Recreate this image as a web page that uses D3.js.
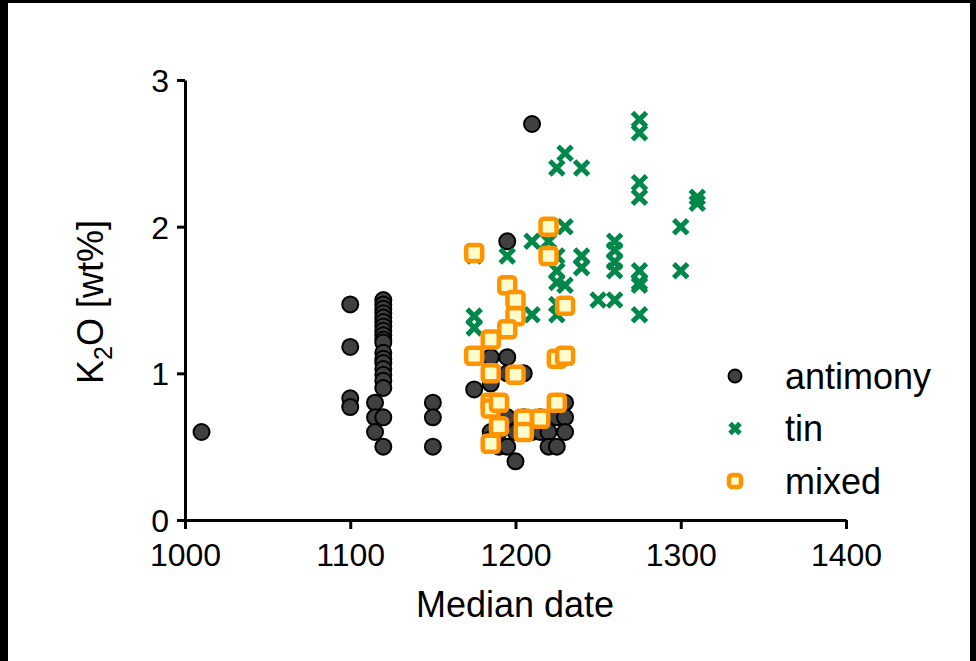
<!DOCTYPE html>
<html>
<head>
<meta charset="utf-8">
<script src="https://cdn.jsdelivr.net/npm/d3@7"></script>
<style>
  body { margin: 0; background: #000; }
  svg { display: block; }
  text { font-family: "Liberation Sans", Arial, sans-serif; fill: #000; }
</style>
</head>
<body>
<div id="chart"></div>
<script>
// K2O vs median date, three glass groups
const antimony = [
  [1010, 0.6],
  [1100, 1.47], [1100, 1.18], [1100, 0.83], [1100, 0.77],
  [1115, 0.8], [1115, 0.7], [1115, 0.6],
  [1120, 1.50], [1120, 1.47], [1120, 1.44], [1120, 1.41], [1120, 1.38], [1120, 1.35],
  [1120, 1.32], [1120, 1.29], [1120, 1.26], [1120, 1.23], [1120, 1.21], [1120, 1.14],
  [1120, 1.10], [1120, 1.07], [1120, 1.03], [1120, 0.99], [1120, 0.95], [1120, 0.90],
  [1120, 0.70], [1120, 0.50],
  [1150, 0.8], [1150, 0.7], [1150, 0.5],
  [1175, 0.89],
  [1185, 1.11], [1185, 0.93], [1185, 0.8], [1185, 0.6], [1185, 0.55],
  [1190, 0.7], [1190, 0.5], [1190, 0.6],
  [1195, 1.9], [1195, 1.11], [1195, 1.0], [1195, 0.5], [1195, 0.7],
  [1200, 0.4], [1200, 0.6], [1205, 1.0], [1205, 0.7],
  [1210, 2.7], [1210, 0.6], [1215, 0.6], [1215, 0.7], [1220, 0.6], [1220, 0.5],
  [1225, 0.5], [1225, 0.7], [1225, 0.8], [1230, 0.8], [1230, 0.7], [1230, 0.6]
];

const tin = [
  [1175, 1.8], [1175, 1.39], [1175, 1.31],
  [1195, 1.8],
  [1210, 1.9], [1210, 1.4],
  [1220, 1.9],
  [1225, 2.4], [1225, 1.8], [1225, 1.7], [1225, 1.62], [1225, 1.47], [1225, 1.4],
  [1230, 2.5], [1230, 2.0], [1230, 1.6],
  [1240, 2.4], [1240, 1.8], [1240, 1.72],
  [1250, 1.5],
  [1260, 1.9], [1260, 1.84], [1260, 1.76], [1260, 1.7], [1260, 1.5],
  [1275, 2.73], [1275, 2.64], [1275, 2.3], [1275, 2.2], [1275, 1.7], [1275, 1.62],
  [1275, 1.6], [1275, 1.4],
  [1300, 2.0], [1300, 1.7],
  [1310, 2.2], [1310, 2.16]
];

const mixed = [
  [1175, 1.82], [1220, 2.0], [1220, 1.8], [1195, 1.6], [1200, 1.5], [1200, 1.39],
  [1230, 1.46], [1195, 1.3], [1185, 1.23], [1175, 1.12], [1225, 1.1], [1230, 1.12],
  [1185, 1.0], [1200, 0.99], [1185, 0.8], [1185, 0.76], [1190, 0.8], [1225, 0.8],
  [1205, 0.69], [1215, 0.69], [1190, 0.64], [1205, 0.6], [1185, 0.52]
];

const xTicks = [1000, 1100, 1200, 1300, 1400];
const yTicks = [0, 1, 2, 3];
const legendLabels = ["antimony", "tin", "mixed"];

const width = 976, height = 661;
const green = "#00884a", orange = "#ff9400";

const svg = d3.select("#chart").append("svg")
  .attr("width", width)
  .attr("height", height);

// white page inside black frame
svg.append("rect")
  .attr("x", 8).attr("y", 3)
  .attr("width", 962).attr("height", 658)
  .attr("fill", "#fff");

const x = d3.scaleLinear().domain([1000, 1400]).range([185, 846]);
const y = d3.scaleLinear().domain([0, 3]).range([520, 80]);

// axes
const xAxis = svg.append("g")
  .attr("transform", `translate(0,${y(0)})`)
  .call(d3.axisBottom(x).tickValues(xTicks).tickFormat(d3.format("d")).tickSize(9).tickSizeOuter(0));
const yAxis = svg.append("g")
  .attr("transform", `translate(${x(1000)},0)`)
  .call(d3.axisLeft(y).tickValues(yTicks).tickFormat(d3.format("d")).tickSize(8).tickSizeOuter(0));

[xAxis, yAxis].forEach((g) => {
  g.select(".domain").attr("stroke", "#000").attr("stroke-width", 3);
  g.selectAll(".tick line").attr("stroke", "#000").attr("stroke-width", 3);
  g.selectAll(".tick text")
    .attr("font-family", "'Liberation Sans', Arial, sans-serif")
    .attr("font-size", 32)
    .attr("fill", "#000");
});
xAxis.selectAll(".tick text").attr("y", 46).attr("dy", 0);
yAxis.selectAll(".tick text").attr("x", -16).attr("dy", "0.36em");

// axis titles
svg.append("text")
  .attr("x", 515).attr("y", 617)
  .attr("text-anchor", "middle")
  .attr("font-size", 36)
  .text("Median date");

const yTitle = svg.append("text")
  .attr("transform", "translate(103,302) rotate(-90)")
  .attr("text-anchor", "middle")
  .attr("font-size", 36);
yTitle.append("tspan").text("K");
yTitle.append("tspan").attr("font-size", 25).attr("dy", 9).text("2");
yTitle.append("tspan").attr("dy", -9).text("O [wt%]");

// marker painters
function drawCircle(g, cx, cy, r) {
  g.append("circle")
    .attr("cx", cx).attr("cy", cy).attr("r", r)
    .attr("fill", "#404040")
    .attr("stroke", "#000")
    .attr("stroke-width", 2);
}
function drawCross(g, cx, cy, s) {
  g.append("path")
    .attr("d", `M${cx - s},${cy - s}L${cx + s},${cy + s}M${cx - s},${cy + s}L${cx + s},${cy - s}`)
    .attr("stroke", green)
    .attr("stroke-width", 5)
    .attr("fill", "none");
}
function drawSquare(g, cx, cy, s) {
  g.append("rect")
    .attr("x", cx - s).attr("y", cy - s)
    .attr("width", 2 * s).attr("height", 2 * s)
    .attr("rx", 3)
    .attr("fill", "#fffccc")
    .attr("stroke", orange)
    .attr("stroke-width", 4.5);
}

const pts = svg.append("g");
antimony.forEach((d) => drawCircle(pts, x(d[0]), y(d[1]), 8));
tin.forEach((d) => drawCross(pts, x(d[0]), y(d[1]), 7));
mixed.forEach((d) => drawSquare(pts, x(d[0]), y(d[1]), 8));

// legend
const legend = svg.append("g");
const painters = [
  (cx, cy) => drawCircle(legend, cx, cy, 6.5),
  (cx, cy) => drawCross(legend, cx, cy, 5),
  (cx, cy) => drawSquare(legend, cx, cy, 6)
];
legendLabels.forEach((label, i) => {
  const cy = 376 + i * 52.5;
  painters[i](735, cy);
  legend.append("text")
    .attr("x", 785).attr("y", cy)
    .attr("dy", "0.36em")
    .attr("font-size", 36)
    .text(label);
});
</script>
</body>
</html>
